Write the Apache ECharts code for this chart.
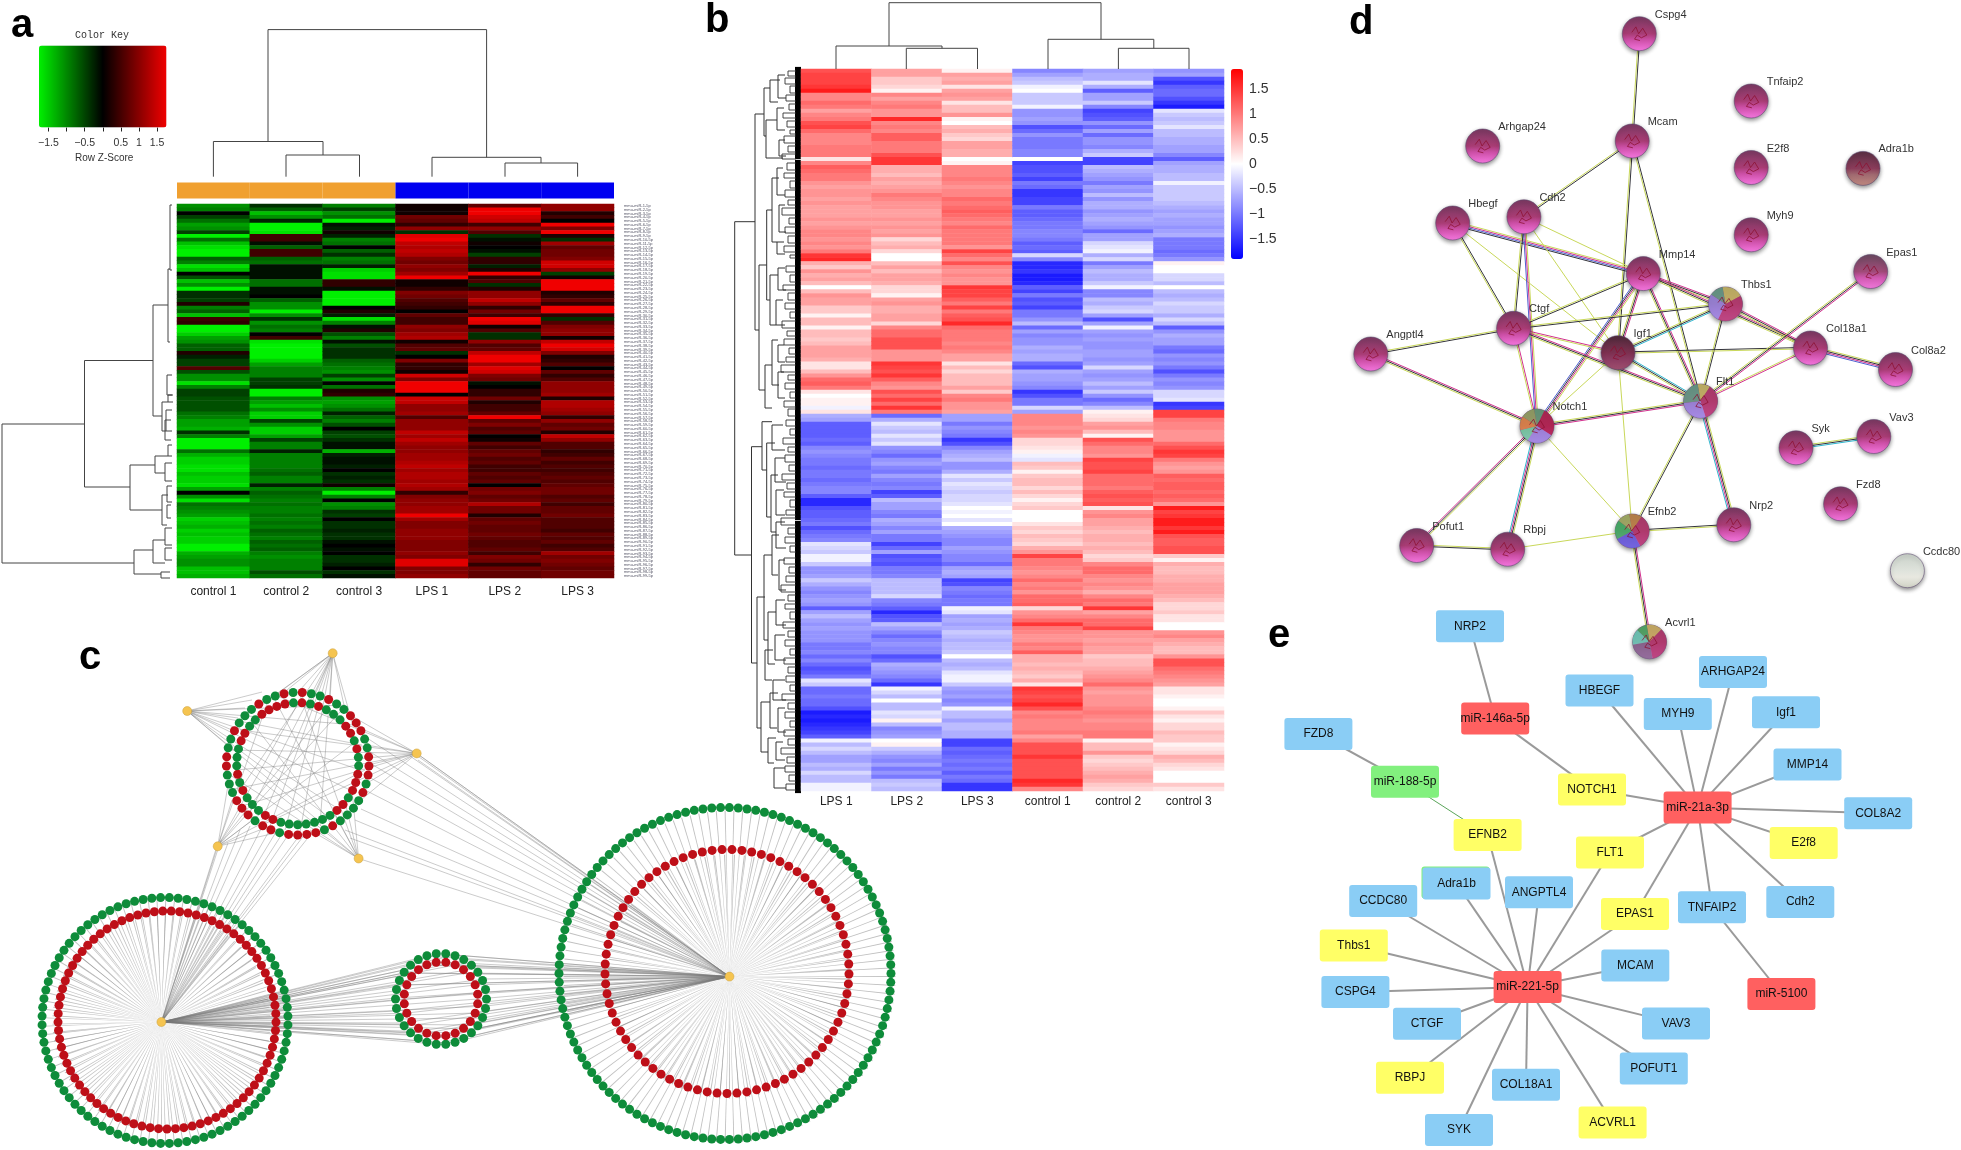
<!DOCTYPE html>
<html>
<head>
<meta charset="utf-8">
<style>html,body{margin:0;padding:0;background:#fff}#c{width:1961px;height:1150px}</style>
<script src="https://cdn.jsdelivr.net/npm/echarts@6/dist/echarts.min.js"></script>
</head>
<body>
<div id="c"></div>
<script>
// ---------- Panel a: miRNA heatmap (row z-score x10) ----------
const aSamples = ['control 1','control 2','control 3','LPS 1','LPS 2','LPS 3'];
const aGroups = ['control','control','control','LPS','LPS','LPS'];
const aControl1 = [-9,-8,0,-4,-7,-10,-9,-4,-15,-7,-12,-14,-15,-15,-6,-8,-14,-12,0,-5,-12,-9,-15,-3,-3,-4,2,-8,-6,-12,4,3,-15,-15,-13,-10,-9,-6,-6,2,-2,-4,-4,5,-5,-9,-9,-14,-8,-4,
 -4,-5,-5,-5,-5,-7,-8,-10,-10,-11,-3,-8,-15,-16,-15,-7,-11,-13,-13,-14,-14,-12,-13,-13,-14,-10,0,-9,-14,-7,-8,-9,-10,-13,-12,-11,-13,-12,-13,-13,-15,-15,-11,-10,-9,-9,-12,-12,-11];
const aControl2 = [-3,-6,-12,-9,-2,-15,-15,-14,4,4,-1,-6,4,4,-6,-7,-1,-1,-1,-1,-7,-7,-1,-1,0,-6,-9,-9,-15,-9,-3,-9,-7,-8,0,4,-14,-15,-15,-15,-15,-13,-10,-8,-8,-8,-4,-4,-3,-15,
 -15,-8,-10,-12,-9,-13,-13,-4,-9,-13,-13,-10,-4,-8,-8,-2,-8,-8,-8,-8,-7,-6,-8,-8,-2,-8,-6,-7,-8,-7,-8,-8,-7,-8,-7,-8,-6,-7,-8,-6,-7,-6,-8,-9,-8,-8,-8,-5,-7];
const aControl3 = [-8,-4,-9,-7,-15,-1,-2,1,-2,-8,-7,0,-6,-3,-8,-7,-2,-13,-14,-14,3,3,-1,-16,-16,-16,-16,0,2,-2,-14,-8,-1,2,-5,-8,-1,-5,-3,-3,-3,-6,-7,-8,-9,-4,-9,0,-7,2,
 3,-9,-10,-9,-7,-2,-6,-8,-5,0,-4,-5,-3,-1,-1,-11,-2,-1,-1,-2,0,-3,-2,-3,1,-8,-15,-8,0,-9,-8,-3,-4,0,-3,-3,-2,-3,-3,-1,0,-1,0,-3,-3,-2,0,-3,-1];
const aLps1 = [1,1,1,7,6,3,9,-3,14,16,12,11,12,11,8,7,9,8,10,16,1,1,3,8,7,5,4,3,0,6,4,4,9,8,10,11,1,5,6,-3,0,8,3,3,1,13,8,16,16,16,
 0,13,12,9,9,10,5,9,9,9,12,10,12,10,9,9,10,10,11,12,10,11,11,10,11,10,3,8,9,9,10,10,16,10,8,8,9,9,9,8,8,8,9,8,14,14,8,8,9];
const aLps2 = [6,15,16,13,12,4,9,5,-3,-1,1,0,-1,-4,3,3,-2,2,16,3,5,-3,2,9,9,12,9,3,7,4,15,14,1,5,-3,-3,9,5,6,12,15,15,10,14,13,8,7,-1,0,3,
 3,7,2,4,4,6,16,6,8,5,6,0,1,6,4,6,7,5,6,4,4,6,5,6,0,7,8,6,7,11,7,7,2,6,7,6,6,7,6,5,5,6,4,8,7,3,7,6,6];
const aLps3 = [9,9,2,4,0,16,8,16,2,-3,10,6,7,7,8,13,13,9,-4,1,17,17,16,2,3,6,3,15,15,3,-3,5,8,9,9,1,12,15,13,8,2,3,5,0,6,3,5,9,9,9,
 10,2,11,11,10,9,3,9,6,7,2,12,9,5,5,3,4,6,4,5,4,5,6,5,6,7,7,5,6,4,6,6,7,5,5,5,4,6,5,6,4,5,10,7,8,7,6,7,7];
const aColumns = [aControl1,aControl2,aControl3,aLps1,aLps2,aLps3];
const aTicks = [-1.5,-1,-0.5,0,0.5,1,1.5];
const aTickLabels = [-1.5,-0.5,0.5,1,1.5];
// merges: [x1,x2,yMerge,yEnd1,yEnd2]
const aTopTree = [[268,486.6,29.6,141.5,157.3],[213.4,323,141.5,176.7,155],[286,359.5,155,176.7,176.7],[432,541,157.3,176.7,163],[505,577.6,163,176.7,176.7]];
// merges: [y1,y2,xMerge,xEnd1,xEnd2]
const aLeftTree = [[424,563,2,84.5,134],[360.5,487,84.5,153,130],[305,416,153,168,162],[269,342,168,170,170],[205,270,170,172,172],[402,431,162,168,166],
 [465,510,130,155,162],[456,473,155,168,165],[445,456,168,172,172],[495,525,162,168,167],[550,574,134,153,161],[540,563,153,165,165],[572,578,161,170,170],
 [375,395,167,172,172],[395,402,168,173,173],[410,431,166,172,172],[420,440,165,171,171],[463,481,165,172,172],[486,502,167,172,172],[505,518,167,171,171],[528,545,165,172,172],[548,560,165,172,172]];

// ---------- Panel b: lncRNA/mRNA heatmap (z-score x10) ----------
const bSamples = ['LPS 1','LPS 2','LPS 3','control 1','control 2','control 3'];
const bLps1 = [13,14,14,14,15,17,9,9,11,10,7,9,10,13,14,11,9,9,9,10,10,10,2,9,12,11,10,10,8,7,8,8,7,8,7,7,7,8,7,8,9,9,8,9,8,10,15,16,6,4,8,6,7,5,0,5,8,7,7,4,4,
 1,5,5,1,5,5,4,5,7,7,7,6,2,2,5,8,11,12,10,2,0,1,1,-1,2,-6,-7,-12,-12,-12,-12,-11,-12,-9,-8,-9,-10,-10,-11,-10,-10,-11,-10,-9,-9,-12,-16,-16,-13,-12,-12,-11,-10,-13,-11,-10,-9,-2,-3,-4,
 -1,-1,-4,-8,-8,-7,-4,-6,-8,-9,-8,-7,-8,-12,-7,-5,-7,-8,-7,-8,-8,-8,-10,-10,-9,-11,-9,-11,-13,-12,-10,-2,-4,-11,-11,-10,-11,-11,-13,-17,-16,-17,-16,-15,-14,-12,-1,-5,-3,-5,-7,-7,-5,-6,-3,-5,-5,-1,-1];
const bLps2 = [7,7,4,4,3,1,9,7,9,10,8,8,16,9,10,9,12,12,10,10,10,13,15,15,6,6,5,7,6,7,8,10,9,8,8,7,7,8,7,8,7,8,3,5,6,3,0,0,5,7,5,7,7,6,3,3,1,7,8,6,6,
 7,7,3,9,11,11,13,13,13,8,8,8,15,14,13,15,12,9,8,13,11,14,11,15,10,-11,-6,-2,-4,-5,-2,-4,-2,-8,-9,-11,-8,-7,-9,-10,-7,-9,-10,-9,-14,-12,-5,-7,-7,-9,-10,-6,-7,-9,-7,-10,-10,-14,-11,-7,
 -13,-12,-13,-10,-10,-9,-5,-5,-5,-5,-3,-9,-10,-12,-16,-13,-12,-5,-7,-9,-11,-9,-8,-9,-9,-13,-11,-6,-7,-8,-9,-11,-15,-1,-3,-5,0,-5,-5,-2,-3,1,-5,-9,-8,-7,0,1,-4,-6,-8,-9,-7,-10,-8,-10,-5,-4,-5];
const bLps3 = [1,7,6,7,2,7,8,7,2,5,5,8,1,0,5,6,4,3,7,7,6,6,0,1,9,9,9,10,9,8,9,9,11,10,11,12,11,10,9,11,10,10,10,10,8,14,11,9,13,9,8,9,8,8,15,14,14,12,10,14,10,
 12,13,16,11,10,10,10,9,10,9,7,7,2,5,3,5,5,5,7,4,9,10,8,8,7,-7,-7,-10,-8,-9,-10,-15,-13,-9,-7,-6,-5,-8,-8,-6,-2,-4,-2,-3,-4,-3,-3,-2,0,-1,0,-2,0,-6,-7,-8,-9,-9,-7,-8,
 -9,-9,-11,-7,-6,-7,-14,-13,-9,-10,-11,-10,-10,-1,-2,-7,-6,-7,-6,-4,-5,-6,-5,-5,-4,0,-5,-6,-5,-2,-1,-1,-4,-7,-8,-7,-9,-8,-1,-5,-5,-7,-5,-5,-6,-6,-14,-14,-11,-12,-11,-10,-11,-10,-12,-10,-11,-15,-15];
const bControl1 = [-9,-7,-5,-4,-1,0,-4,-4,-4,-1,-8,-8,-7,-8,-13,-11,-8,-10,-10,-10,-9,-9,0,-14,-13,-13,-12,-14,-10,-11,-15,-15,-14,-14,-10,-12,-12,-11,-10,-10,-9,-9,-10,-12,-11,-12,-3,-9,-16,-16,-15,-17,-17,-16,-12,-14,-10,-13,-12,-14,-10,
 -10,-8,-5,-11,-7,-9,-8,-8,-6,-7,-6,-6,-11,-13,-6,-7,-7,-8,-9,-15,-13,-10,-10,-3,-7,9,9,9,8,9,8,3,3,2,1,-1,-2,5,4,1,4,5,5,3,5,3,1,3,4,0,0,0,2,4,3,5,4,3,6,8,
 14,10,10,9,8,9,11,9,10,8,11,11,12,3,8,9,11,15,10,9,8,8,10,9,12,6,6,5,6,5,4,6,2,15,14,13,14,16,13,9,10,9,9,9,10,7,9,13,13,13,15,13,13,13,13,13,16,15,9];
const bControl2 = [-7,-6,-6,-2,-6,-12,-7,-7,-4,-9,-14,-13,-12,-8,-11,-7,-11,-8,-8,-9,-6,-4,-14,-14,-5,-6,-7,-8,-10,-7,-8,-5,-8,-6,-6,-8,-7,-6,-7,-8,-11,-7,-7,-3,-2,-1,-6,-3,-10,-7,-5,-6,-6,-4,-1,-9,-9,-5,-6,-4,-3,
 -7,-13,-7,-1,-7,-8,-7,-8,-8,-7,-7,-8,-7,-3,-7,-8,-7,-5,-7,-4,-8,-11,-9,-5,1,2,3,7,8,5,1,13,11,9,9,8,14,13,13,14,11,11,11,10,12,13,12,13,2,8,9,7,7,6,5,6,6,5,6,5,
 3,4,9,11,11,9,8,9,8,6,9,11,10,15,7,9,11,11,14,8,8,7,8,7,7,4,5,5,6,7,8,9,11,8,7,8,8,8,9,10,9,8,9,9,10,10,1,5,5,8,4,3,4,5,6,7,6,4,3];
const bControl3 = [-8,-7,-13,-15,-12,-11,-11,-13,-15,-17,-2,-4,-5,-4,-2,-5,-5,-6,-6,-7,-7,-9,-12,-7,-6,-6,-5,-5,-1,-4,-4,-4,-4,-5,-6,-7,-6,-7,-7,-8,-7,-6,-10,-10,-10,-11,-10,-8,1,0,0,-3,-3,-5,0,-5,-6,-5,-3,-4,-4,
 -6,-3,-5,-12,-8,-6,-7,-7,-10,-11,-8,-9,-8,-10,-13,-10,-8,-9,-8,-3,-3,-2,-15,-14,14,14,10,9,9,8,8,8,11,13,15,14,10,8,7,8,12,11,12,12,11,12,11,8,17,14,15,17,17,15,17,13,12,12,13,13,
 4,1,6,5,5,6,6,7,7,7,6,5,3,3,4,2,2,0,0,8,9,7,6,5,5,8,13,13,11,10,9,8,7,2,2,1,0,0,1,4,2,1,3,3,5,4,4,1,2,3,6,5,3,2,0,0,0,4,2];
const bColumns = [bLps1,bLps2,bLps3,bControl1,bControl2,bControl3];
const bTickLabels = [-1.5,-1,-0.5,0,0.5,1,1.5];
const bTopTree = [[889,1101,2.7,46,39.3],[836,942,46,69,48.3],[906.3,977.5,48.3,69,69],[1048,1153.8,39.3,69,48.3],[1118.4,1189,48.3,69,69]];
const bLeftTree = [[221.7,555,734.7,755,751.5],[114,330,755,764,759],[446.7,663,751.5,762,757],[88,136,764,770,766],[80,102,770,780,778],[120,158,766,777,783],[265,390,759,766.7,765],
 [210,300,766.7,772,770],[178,242,772,779,777],[275,325,770,778,776],[365,408,765,772,772],[340,385,772,778,779],[421.7,470,762,772,766.7],[443,517,766.7,775,771],[475,532,771,778,776],
 [597,728,757,765,761],[555,640,764,772,768],[535,575,772,779,778],[612,664,768,776,775],[702,752,761,770,768],[693,728,770,778,777],[738,763,768,776,774],[650,680,765,773,772],
 [75,98,778,785,786],[108,130,777,784,785],[140,156,779,785,786],[168,195,777,783,785],[205,232,779,785,786],[242,254,777,784,785],[268,290,778,785,786],[300,325,776,783,785],[345,362,778,784,785],[372,398,778,784,785],
 [425,450,772,783,785],[458,482,775,785,786],[490,515,776,784,785],[522,548,776,785,786],[560,590,779,785,786],[600,625,776,785,786],[635,660,775,785,786],[680,700,773,785,786],[708,732,778,785,786],[742,760,776,783,785],[768,788,774,785,786]];
const bCombs = [[71,76,788],[78,84,785],[86,93,790],[95,101,786],[104,110,789],[113,118,783],[121,127,787],[130,134,790],[136,143,784],[146,152,788],[154,159,782],
 [163,170,787],[173,178,784],[181,188,790],[190,197,785],[200,205,788],[208,215,782],[218,224,789],[227,233,785],[236,243,788],[246,252,784],[255,258,790],
 [266,272,786],[275,282,790],[285,290,783],[293,300,788],[303,309,785],[312,318,790],[321,328,782],[331,336,787],[339,345,784],[348,354,789],[357,362,786],[365,372,781],[375,380,788],[383,389,785],[392,398,790],[401,407,784],[409,416,788],
 [420,426,786],[429,435,790],[438,444,783],[447,452,788],[455,462,785],[465,471,789],[474,480,782],[483,489,787],[492,497,784],[500,507,790],[510,515,786],[518,525,781],[528,534,788],[537,543,785],[546,552,790],
 [558,564,784],[567,573,789],[576,582,786],[585,592,781],[595,601,788],[604,609,785],[612,619,790],[622,628,783],[631,637,788],[640,646,785],[649,655,790],[658,664,784],[667,673,788],
 [676,682,786],[685,691,790],[694,700,782],[703,709,788],[712,718,785],[721,727,790],[730,736,784],[739,745,788],[748,754,781],[757,763,787],[766,772,785],[775,781,789],[784,790,786]];

// ---------- Panel c: regulatory network ----------
const upOuterMembers = 'r g g r g g r r r g g r r r g r g g g g r g r r r r g r r g r r r g g g r r g g r g g g r g g r g'.split(' ');
const upInnerMembers = 'r g r g g g r r g r g g r r r g r r g g g g g g g r r g g g r g r g g g r r g g r r r r g'.split(' ');
const rightOuterCount = 118, rightInnerCount = 77, leftOuterCount = 88, leftInnerCount = 81, midOuterCount = 30, midInnerCount = 24;
const cHubs = [[161.4,1022],[729.5,976.6]];
const cSatellites = [[332.7,653.2],[187.2,711],[416.7,753.4],[217.7,846.3],[358.6,858.5]];
const midAnchors = [[441,954],[455,955],[468,960],[478,968],[484,979],[486,992],[486,1006],[482,1018],[474,1029],[463,1038],[450,1043],[436,1044],[423,1041],[411,1033],[402,1023],[397,1011],[396,998],[398,985],[404,973],[414,963],[427,956]];
const midInnerAnchors = [[441,962],[455,965],[467,973],[475,985],[478,999],[475,1013],[467,1025],[455,1033],[441,1036],[427,1033],[415,1025],[407,1013],[404,999],[407,985],[415,973],[427,965]];
const cFans = [
 [[332.7,653.2],[[275,695],[287,690],[300,690],[315,692],[330,700],[345,710],[352,722],[262,705],[285,830],[262,820],[320,825],[240,790],[300,832],[250,812],[270,826]]],
 [[187.2,711],[[252,700],[245,708],[238,718],[232,730],[227,745],[262,692],[350,790],[360,770],[340,810],[362,745],[320,822],[355,725],[330,818],[345,705]]],
 [[416.7,753.4],[[350,715],[360,728],[366,745],[368,765],[364,785],[355,805],[240,730],[236,770],[245,805],[262,825],[230,750],[228,790],[275,695]]],
 [[217.7,846.3],[[228,785],[232,800],[240,812],[250,822],[265,828],[280,832],[300,700],[330,705],[358,740],[340,712],[270,695],[365,770]]],
 [[358.6,858.5],[[320,825],[335,815],[345,802],[310,830],[352,790],[250,720],[275,700],[235,760],[300,695],[230,775]]],
 [[161.4,1022],[[261,829],[276,832],[287.5,836],[299,836],[311,834],[217.7,846.3],[228,843],[240,830],[250,826],[268,833],[282,834],[305,834],[221,840],[217,846]]],
 [[729.5,976.6],[[416.7,753.4],[364,736],[367,750],[368,762],[367,776],[365,790],[361,809],[355,820],[345,830],[358.6,858.5],[350,838],[416.7,753.4],[410,756],[418,760],[412,752]]],
 [[161.4,1022],midAnchors],[[729.5,976.6],midAnchors],
 [[161.4,1022],midInnerAnchors],[[729.5,976.6],midInnerAnchors]
];

// ---------- Panel d: STRING protein network ----------
const dNodes = [['Cspg4',1639.3,33.7],['Tnfaip2',1751.2,101],['Mcam',1632.2,141],['Arhgap24',1482.7,146],['E2f8',1751.2,167.5],['Adra1b',1863,168.4],['Hbegf',1452.7,223],['Cdh2',1523.9,216.8],['Myh9',1751.2,234.8],['Mmp14',1643.3,273.6],['Epas1',1870.7,271.5],['Thbs1',1725.5,303.9],['Ctgf',1513.6,328.3],['Igf1',1618,352.7],['Angptl4',1370.8,354],['Col18a1',1810.5,348],['Col8a2',1895.5,369.5],['Flt1',1700.6,401],['Notch1',1537,426],['Syk',1796,447.8],['Vav3',1873.8,436.5],['Fzd8',1840.6,503.8],['Pofut1',1416.7,545.5],['Rbpj',1507.7,549.2],['Efnb2',1632.2,531],['Nrp2',1733.8,524.8],['Ccdc80',1907.4,570.7],['Acvrl1',1649.6,641.8]];
const dEdges = [['Cspg4','Mcam','ky'],['Mcam','Cdh2','ky'],['Mcam','Igf1','ky'],['Mcam','Flt1','ky'],['Hbegf','Mmp14','ymbk'],['Hbegf','Ctgf','ky'],['Hbegf','Igf1','y'],['Cdh2','Ctgf','ky'],['Cdh2','Notch1','ymb'],['Cdh2','Mmp14','y'],['Cdh2','Igf1','y'],['Mmp14','Ctgf','ky'],['Mmp14','Igf1','mky'],['Mmp14','Thbs1','mky'],['Mmp14','Col18a1','mky'],['Mmp14','Notch1','ymkb'],['Mmp14','Flt1','mky'],['Thbs1','Ctgf','ky'],['Thbs1','Igf1','cky'],['Thbs1','Col18a1','mky'],['Thbs1','Flt1','ky'],['Ctgf','Angptl4','ky'],['Ctgf','Notch1','my'],['Ctgf','Igf1','my'],['Ctgf','Flt1','mky'],['Igf1','Col18a1','ky'],['Igf1','Flt1','cky'],['Igf1','Notch1','y'],['Igf1','Efnb2','y'],['Col18a1','Col8a2','ykmb'],['Col18a1','Flt1','my'],['Epas1','Flt1','mky'],['Angptl4','Notch1','mky'],['Flt1','Notch1','mky'],['Flt1','Efnb2','ky'],['Flt1','Nrp2','ykmc'],['Notch1','Pofut1','ykm'],['Notch1','Rbpj','ykmc'],['Notch1','Efnb2','y'],['Pofut1','Rbpj','yk'],['Rbpj','Efnb2','y'],['Efnb2','Nrp2','ky'],['Efnb2','Acvrl1','mky'],['Syk','Vav3','ykc']];
const dSlices = [
 ['Thbs1',[20,40,27,13],['#c8c860','#b03a6a','#8f8fe6','#5aa888']],
 ['Flt1',[12,36,28,24],['#c8c860','#b03a6a','#8f8fe6','#5aa888']],
 ['Notch1',[10,27,25,12,13,13],['#58a878','#b0204a','#8f8fe6','#60e0a0','#e09040','#90b060']],
 ['Efnb2',[12,33,25,18,12],['#c09040','#b03a6a','#5060e0','#30c060','#a0c060']],
 ['Acvrl1',[15,35,25,15,10],['#d0c060','#b03a6a','#7a6a8a','#60e0c0','#40b860']]
];

// ---------- Panel e: miRNA-target network ----------
const eNodes = [['NRP2',1470,626.3,'b'],['miR-146a-5p',1495.2,718.6,'r'],['FZD8',1318.4,734,'b'],['miR-188-5p',1405,781.7,'g'],['NOTCH1',1592,789.4,'y'],['HBEGF',1599.5,690.5,'b'],['ARHGAP24',1733,672,'b'],['MYH9',1677.8,714,'b'],['Igf1',1786,712.2,'b'],['MMP14',1807.5,764.5,'b'],['miR-21a-3p',1697.6,807.6,'r'],['COL8A2',1878.2,813.3,'b'],['E2f8',1803.7,843,'y'],['EFNB2',1487.6,835,'y'],['FLT1',1610,852.5,'y'],[' ',1455.5,882.4,'g'],['Adra1b',1456.5,883.4,'b'],['ANGPTL4',1539,892.2,'b'],['CCDC80',1383.2,901,'b'],['EPAS1',1635,914,'y'],['TNFAIP2',1712,907.3,'b'],['Cdh2',1800.3,902,'b'],['Thbs1',1353.8,945.5,'y'],['MCAM',1635.3,965.5,'b'],['miR-221-5p',1527.6,987,'r'],['CSPG4',1355.4,992,'b'],['CTGF',1427,1023.7,'b'],['VAV3',1676,1023.4,'b'],['miR-5100',1781.4,994,'r'],['POFUT1',1653.8,1068.6,'b'],['RBPJ',1410,1077.7,'y'],['COL18A1',1526,1084.7,'b'],['ACVRL1',1612.6,1122.6,'y'],['SYK',1459,1130,'b']];
const eEdges = [['NRP2','miR-146a-5p'],['miR-146a-5p','NOTCH1'],['FZD8','miR-188-5p'],['NOTCH1','miR-21a-3p'],['HBEGF','miR-21a-3p'],['ARHGAP24','miR-21a-3p'],['MYH9','miR-21a-3p'],['Igf1','miR-21a-3p'],['MMP14','miR-21a-3p'],['COL8A2','miR-21a-3p'],['E2f8','miR-21a-3p'],['FLT1','miR-21a-3p'],['EPAS1','miR-21a-3p'],['TNFAIP2','miR-21a-3p'],['Cdh2','miR-21a-3p'],['TNFAIP2','miR-5100'],['EFNB2','miR-221-5p'],['FLT1','miR-221-5p'],['Adra1b','miR-221-5p'],['ANGPTL4','miR-221-5p'],['CCDC80','miR-221-5p'],['EPAS1','miR-221-5p'],['Thbs1','miR-221-5p'],['MCAM','miR-221-5p'],['CSPG4','miR-221-5p'],['CTGF','miR-221-5p'],['VAV3','miR-221-5p'],['POFUT1','miR-221-5p'],['RBPJ','miR-221-5p'],['COL18A1','miR-221-5p'],['ACVRL1','miR-221-5p'],['SYK','miR-221-5p']];
const eThinEdges = [['miR-188-5p','EFNB2']];

// ---------- Chart assembly ----------
const chart = echarts.init(document.getElementById('c'), null, {renderer:'canvas', width:1961, height:1150});
const FONT = '"Liberation Sans", Arial, sans-serif';
const PAGE = 0; // full-page layout grid index for trees and networks
const series = [];

function heatData(cols){ const d=[]; cols.forEach((c,j)=>c.forEach((v,i)=>d.push([j,i,v]))); return d; }
function topBrackets(t){ return t.map(m=>({coords:[[m[0],m[3]],[m[0],m[2]],[m[1],m[2]],[m[1],m[4]]]})); }
function leftBrackets(t){ return t.map(m=>({coords:[[m[3],m[0]],[m[2],m[0]],[m[2],m[1]],[m[4],m[1]]]})); }
function treeSeries(data,color,width){ series.push({type:'lines',coordinateSystem:'cartesian2d',xAxisIndex:PAGE,yAxisIndex:PAGE,polyline:true,silent:true,z:3,
  lineStyle:{color:color,width:width,opacity:1},effect:{show:false},data:data}); }

// --- heatmaps ---
const rowsA = aControl1.map((_,i)=>'mmu-miR-'+(i+1)+'-5p');
const rowsB = bLps1.map((_,i)=>'r'+i);
const heatAIndex = series.length;
series.push({type:'heatmap',xAxisIndex:1,yAxisIndex:1,data:heatData(aColumns),silent:true,progressive:0,emphasis:{disabled:true}});
series.push({type:'bar',xAxisIndex:2,yAxisIndex:2,barCategoryGap:0,silent:true,data:aGroups.map(g=>({value:1,itemStyle:{color:g==='control'?'#F0A030':'#0000F0'}}))});
const heatBIndex = series.length;
series.push({type:'heatmap',xAxisIndex:4,yAxisIndex:4,data:heatData(bColumns),silent:true,progressive:0,emphasis:{disabled:true}});

// --- dendrograms ---
treeSeries(topBrackets(aTopTree),'#444',1);
treeSeries(leftBrackets(aLeftTree),'#444',1);
treeSeries(topBrackets(bTopTree),'#444',1);
treeSeries(leftBrackets(bLeftTree),'#333',1);
treeSeries(bCombs.map(m=>({coords:[[796,m[0]],[m[2],m[0]],[m[2],m[1]],[796,m[1]]]})),'#333',0.9);

// --- panel c rings (polar systems, library places nodes on the angle axis) ---
const ringColors = {g:'#0E8C3A', r:'#BE0F18'};
const rings = [
 {center:[725,973.5],R:166,members:Array(rightOuterCount).fill('g'),hub:cHubs[1]},
 {center:[727,971.5],R:122,members:Array(rightInnerCount).fill('r'),hub:cHubs[1]},
 {center:[165,1020.5],R:123,members:Array(leftOuterCount).fill('g'),hub:cHubs[0]},
 {center:[167,1020],R:109,members:Array(leftInnerCount).fill('r'),hub:cHubs[0]},
 {center:[441,999],R:45.5,members:Array(midOuterCount).fill('g')},
 {center:[441,999],R:37,members:Array(midInnerCount).fill('r')},
 {center:[297.7,763.7],R:71.3,members:upOuterMembers},
 {center:[297.7,763.7],R:61,members:upInnerMembers}
];
const polar=[], radiusAxis=[], angleAxis=[];
function addPolar(center,R,n){
  const idx=polar.length;
  polar.push({center:center,radius:[0,R]});
  radiusAxis.push({polarIndex:idx,type:'value',min:0,max:1,show:false});
  angleAxis.push({polarIndex:idx,type:'category',data:Array.from({length:n},(_,i)=>'n'+i),show:false,startAngle:90,clockwise:true});
  return idx;
}
const ringPolar = rings.map(r=>addPolar(r.center,r.R,r.members.length));
rings.forEach(r=>{ if(r.hub){ const p=addPolar(r.hub,r.R,r.members.length);
  series.push({type:'bar',coordinateSystem:'polar',polarIndex:p,barWidth:'11%',silent:true,z:1,
    itemStyle:{color:'rgba(105,105,105,0.42)'},data:r.members.map(()=>1)}); }});
// cross edges
const fanData=[]; cFans.forEach(f=>f[1].forEach(t=>fanData.push({coords:[f[0],t]})));
series.push({type:'lines',coordinateSystem:'cartesian2d',xAxisIndex:PAGE,yAxisIndex:PAGE,silent:true,z:2,lineStyle:{color:'#777',width:1,opacity:0.38},data:fanData});
rings.forEach((r,i)=>series.push({type:'scatter',coordinateSystem:'polar',polarIndex:ringPolar[i],symbolSize:9,silent:true,z:5,
  data:r.members.map((m,k)=>({value:[1,k],itemStyle:{color:ringColors[m],opacity:1}}))}));
series.push({type:'scatter',xAxisIndex:PAGE,yAxisIndex:PAGE,symbolSize:9,silent:true,z:6,itemStyle:{color:'#F5C450',borderColor:'#c9a040',borderWidth:0.5,opacity:1},data:cHubs.concat(cSatellites)});

// --- panel d ---
const dPos={}; dNodes.forEach(n=>dPos[n[0]]=[n[1],n[2]]);
const chan={y:'#c9d85a',k:'#33333a',m:'#d2308e',c:'#2fb6cf',b:'#5060d0'};
const dLineData=[];
dEdges.forEach(e=>{
  const a=dPos[e[0]],b=dPos[e[1]],dx=b[0]-a[0],dy=b[1]-a[1],len=Math.hypot(dx,dy),nx=-dy/len,ny=dx/len,cs=e[2].split(''),gap=1.35;
  cs.forEach((c,i)=>{const o=(i-(cs.length-1)/2)*gap;
    dLineData.push({coords:[[a[0]+nx*o,a[1]+ny*o],[b[0]+nx*o,b[1]+ny*o]],lineStyle:{color:chan[c]}});});
});
series.push({type:'lines',coordinateSystem:'cartesian2d',xAxisIndex:PAGE,yAxisIndex:PAGE,silent:true,z:2,lineStyle:{width:1,opacity:1},data:dLineData});
const sphere=(a,b,c,d)=>({type:'linear',x:0,y:0,x2:0,y2:1,colorStops:[{offset:0,color:a},{offset:.5,color:b},{offset:.68,color:c},{offset:1,color:d}]});
const pink=sphere('#7a3a62','#a83c74','#cc4fa6','#f778e2');
const styles={Ccdc80:sphere('#c8d0c8','#dfe3dc','#e8e8e0','#cfd2c4'),Adra1b:sphere('#5a3044','#8a3c5a','#a06a70','#c08a80'),Igf1:sphere('#4e2a3a','#7c3050','#8a3a60','#a05070'),Epas1:sphere('#6a4a60','#a04a78','#d058b0','#f27add')};
series.push({type:'scatter',xAxisIndex:PAGE,yAxisIndex:PAGE,symbolSize:34,silent:true,z:6,
  data:dNodes.map(n=>({name:n[0],value:[n[1],n[2]],itemStyle:{color:styles[n[0]]||pink,opacity:1,borderColor:'rgba(90,70,110,.55)',borderWidth:1,shadowBlur:4,shadowOffsetY:2,shadowColor:'rgba(0,0,0,.45)'}})),
  label:{show:true,formatter:'{b}',position:[33,-7],fontFamily:FONT,fontSize:11,color:'#333'}});
dSlices.forEach(s=>{const c=dPos[s[0]];
  series.push({type:'pie',center:c,radius:[0,17],silent:true,z:7,animation:false,label:{show:false},labelLine:{show:false},startAngle:100,clockwise:true,
    itemStyle:{opacity:0.78},data:s[1].map((v,i)=>({value:v,itemStyle:{color:s[2][i]}}))});
});
// protein-structure scribble on each sphere
const scribble='path://M1,7 L4,3 L6,8 L9,4 L12,9 L8,11 L5,9 L3,12 L7,13';
series.push({type:'scatter',xAxisIndex:PAGE,yAxisIndex:PAGE,symbol:scribble,symbolSize:15,symbolKeepAspect:true,silent:true,z:8,
  itemStyle:{color:'rgba(0,0,0,0)',borderColor:'#8c1030',borderWidth:0.9,opacity:0.85},
  data:dNodes.filter(n=>n[0]!=='Ccdc80').map(n=>[n[1],n[2]])});

// --- panel e ---
const eColors={b:'#8ACDF5',r:'#FF6060',y:'#FFFF66',g:'#82F07E'};
const boxPath='path://M3,0H65a3,3 0 0 1 3,3V29a3,3 0 0 1-3,3H3a3,3 0 0 1-3-3V3a3,3 0 0 1 3-3z';
const eIdx={}; eNodes.forEach((n,i)=>eIdx[n[0]]=i);
series.push({type:'graph',coordinateSystem:'cartesian2d',xAxisIndex:PAGE,yAxisIndex:PAGE,layout:'none',silent:true,z:4,symbol:boxPath,symbolKeepAspect:false,symbolSize:[68,32],
  lineStyle:{color:'#9a9a9a',width:2,opacity:1,curveness:0},
  label:{show:true,position:'inside',fontFamily:FONT,fontSize:12,color:'#111',formatter:'{b}'},
  data:eNodes.map(n=>({name:n[0],value:[n[1],n[2]],itemStyle:{color:eColors[n[3]],opacity:1}})),
  links:eEdges.map(e=>({source:eIdx[e[0]],target:eIdx[e[1]]})).concat(eThinEdges.map(e=>({source:eIdx[e[0]],target:eIdx[e[1]],lineStyle:{color:'#5aa55a',width:1}})))});

const noAxis={axisLine:{show:false},axisTick:{show:false},axisLabel:{show:false},splitLine:{show:false}};
const letter=(t,x,y)=>({type:'text',left:x,top:y,z:20,silent:true,style:{text:t,fontFamily:FONT,fontWeight:'bold',fontSize:40,fill:'#000'}});
chart.setOption({
  animation:false,
  backgroundColor:'#fff',
  grid:[
    {left:0,top:0,width:1961,height:1150},
    {left:177,top:204,width:437,height:374},
    {left:177,top:182.6,width:437,height:15.8},
    {left:39,top:45.5,width:127.5,height:82},
    {left:801,top:69,width:423,height:722},
    {left:1231,top:69,width:12,height:190}
  ],
  xAxis:[
    {gridIndex:0,type:'value',min:0,max:1961,show:false},
    {gridIndex:1,type:'category',data:aSamples,position:'bottom',axisLine:{show:false},axisTick:{show:false},splitLine:{show:false},axisLabel:{interval:0,margin:8,fontFamily:FONT,fontSize:12,color:'#222'}},
    {gridIndex:2,type:'category',data:aSamples,show:false},
    {gridIndex:3,type:'value',min:-1.76,max:1.76,position:'bottom',splitLine:{show:false},axisLine:{show:false},
      axisTick:{show:true,length:4,customValues:aTicks,lineStyle:{color:'#222'}},
      axisLabel:{customValues:aTickLabels,margin:10,fontFamily:FONT,fontSize:10.5,color:'#333',formatter:v=>String(v).replace('-','\u2212')}},
    {gridIndex:4,type:'category',data:bSamples,position:'bottom',axisLine:{show:false},axisTick:{show:false},splitLine:{show:false},axisLabel:{interval:0,margin:5,fontFamily:FONT,fontSize:12,color:'#222'}},
    Object.assign({gridIndex:5,type:'value',min:0,max:1},noAxis,{show:false})
  ],
  yAxis:[
    {gridIndex:0,type:'value',min:0,max:1150,inverse:true,show:false},
    {gridIndex:1,type:'category',data:rowsA,inverse:true,position:'right',axisLine:{show:false},axisTick:{show:false},splitLine:{show:false},axisLabel:{interval:0,margin:10,fontFamily:FONT,fontSize:4,color:'#556'}},
    {gridIndex:2,type:'value',min:0,max:1,show:false},
    {gridIndex:3,type:'value',min:0,max:1,show:false},
    {gridIndex:4,type:'category',data:rowsB,inverse:true,position:'left',axisLine:{show:false},splitLine:{show:false},axisLabel:{show:false},axisTick:{show:true,interval:0,length:6,lineStyle:{color:'#000',width:4.2}}},
    {gridIndex:5,type:'value',min:-1.9,max:1.9,position:'right',splitLine:{show:false},axisLine:{show:false},axisTick:{show:false},
      axisLabel:{customValues:bTickLabels,margin:6,fontFamily:FONT,fontSize:14,color:'#333',formatter:v=>String(v).replace('-','\u2212')}}
  ],
  polar:polar, radiusAxis:radiusAxis, angleAxis:angleAxis,
  visualMap:[
    {type:'continuous',seriesIndex:heatAIndex,min:-15,max:15,orient:'horizontal',left:39,top:45.5,itemWidth:82,itemHeight:127.5,padding:0,text:null,showLabel:false,calculable:false,hoverLink:false,
      inRange:{color:['#00f000','#000000','#f00000']}},
    {type:'continuous',seriesIndex:heatBIndex,min:-19,max:19,orient:'vertical',left:1231,top:69,itemWidth:12,itemHeight:190,padding:0,text:null,showLabel:false,calculable:false,hoverLink:false,
      inRange:{color:['#0000ff','#ffffff','#ff0000']}}
  ],
  graphic:[
    letter('a',11,6),letter('b',705,1),letter('c',79,638),letter('d',1349,3),letter('e',1268,616),
    {type:'text',left:75,top:30,silent:true,style:{text:'Color Key',fontFamily:'"Liberation Mono", monospace',fontSize:10,fill:'#333'}},
    {type:'text',left:75,top:153,silent:true,style:{text:'Row Z-Score',fontFamily:FONT,fontSize:10,fill:'#333'}}
  ],
  series:series
});
</script>
</body>
</html>
